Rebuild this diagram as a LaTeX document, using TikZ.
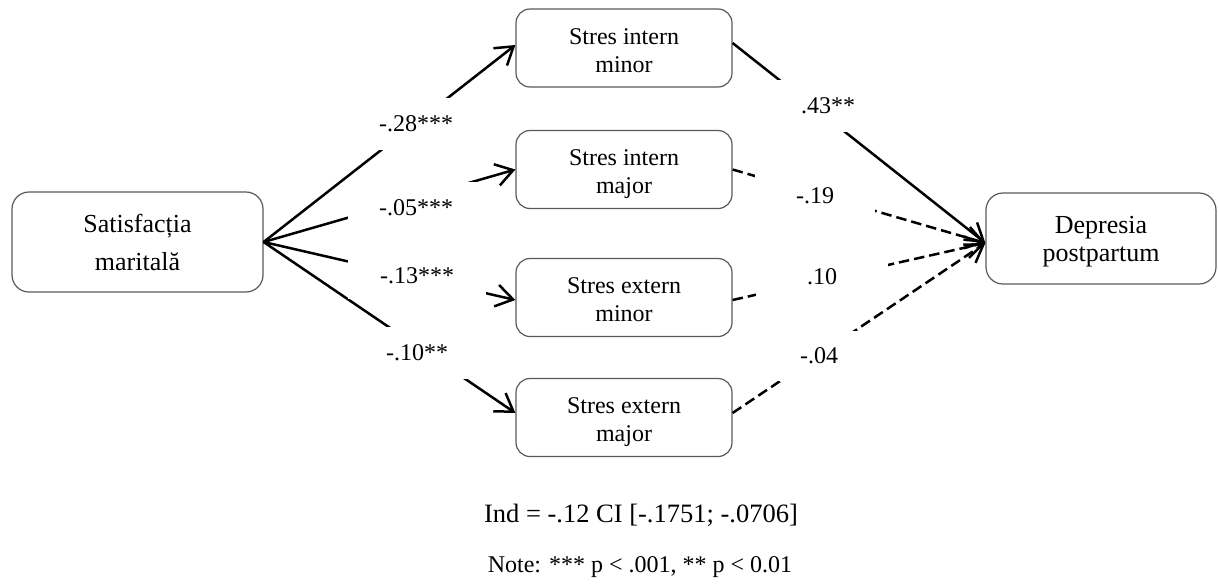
\documentclass[tikz,border=0pt]{standalone}
\usepackage{fontspec}
\setmainfont{Liberation Serif}
\usetikzlibrary{arrows.meta}

\tikzset{
  varbox/.style={draw=black!65, line width=1.2pt, rounded corners=14pt,
    align=center, inner sep=0pt, text depth=0pt},
  endbox/.style={varbox, rounded corners=17pt},
  medbox/.style={varbox, minimum width=216pt, minimum height=78pt,
    font=\fontsize{24}{28}\selectfont, text height=48pt},
  effect/.style={line width=2.5pt, black,
    -{Straight Barb[length=17pt,width=22pt]}},
  nseffect/.style={effect, dash pattern=on 10.5pt off 5pt},
  coef/.style={fill=white, inner sep=0pt, minimum height=52pt,
    font=\fontsize{24}{28}\selectfont},
  foot/.style={inner sep=0pt, anchor=base},
}

\begin{document}
\begin{tikzpicture}[x=1pt, y=-1pt]
  \useasboundingbox (0,0) rectangle (1218,584);

  % predictor, mediators, outcome
  \node[endbox, minimum width=251pt, minimum height=100pt,
        font=\fontsize{26}{38}\selectfont, text height=56pt]
        (sat) at (137.5,242) {Satisfacția\\maritală};
  \node[medbox] (im) at (624,48)    {Stres intern\\minor};
  \node[medbox] (iM) at (624,169.5) {Stres intern\\major};
  \node[medbox] (em) at (624,297.5) {Stres extern\\minor};
  \node[medbox] (eM) at (624,417.5) {Stres extern\\major};
  \node[endbox, minimum width=230pt, minimum height=91pt,
        font=\fontsize{26}{28.5}\selectfont, text height=46.5pt]
        (dep) at (1101,238.5) {Depresia\\postpartum};

  \coordinate (depIn) at ([yshift=-4.5pt]dep.west);

  % a paths
  \draw[effect] (sat.east) -- ([yshift=3pt]im.west);
  \draw[effect] (sat.east) -- (iM.west);
  \draw[effect] (sat.east) -- ([yshift=-2.5pt]em.west);
  \draw[effect] (sat.east) -- ([yshift=4.5pt]eM.west);

  % b paths
  \draw[effect]   ([yshift=5pt]im.east) -- (depIn);
  \draw[nseffect] (iM.east) -- (depIn);
  \draw[nseffect] ([yshift=-2.5pt]em.east) -- (depIn);
  \draw[nseffect] ([yshift=4.5pt]eM.east) -- (depIn);

  % coefficients on white panels
  \node[coef, minimum width=136pt] (a1) at (416,124) {-.28***};
  \node[coef, minimum width=136pt] (a2) at (416,208) {-.05***};
  \node[coef, minimum width=138pt, minimum height=46pt] (a3) at (417,276) {-.13***};
  \node[coef, minimum width=136pt] (a4) at (417,353) {-.10**};

  \node[coef, minimum width=125pt] (b1) at (828,106) {.43**};
  \node[coef, minimum width=120pt] (b2) at (815,196) {-.19};
  \node[coef, minimum width=132pt] (b3) at (822,277) {.10};
  \node[coef, minimum width=125pt, minimum height=50pt] (b4) at (819,356) {-.04};

  % indirect effect and note
  \node[foot, font=\fontsize{26.5}{30}\selectfont] (ind) at (641,522)
        {Ind = -.12 CI [-.1751; -.0706]};
  \node[foot, font=\fontsize{24}{28}\selectfont] (note) at (640,572)
        {Note: *** p < .001, ** p < 0.01};
\end{tikzpicture}
\end{document}
